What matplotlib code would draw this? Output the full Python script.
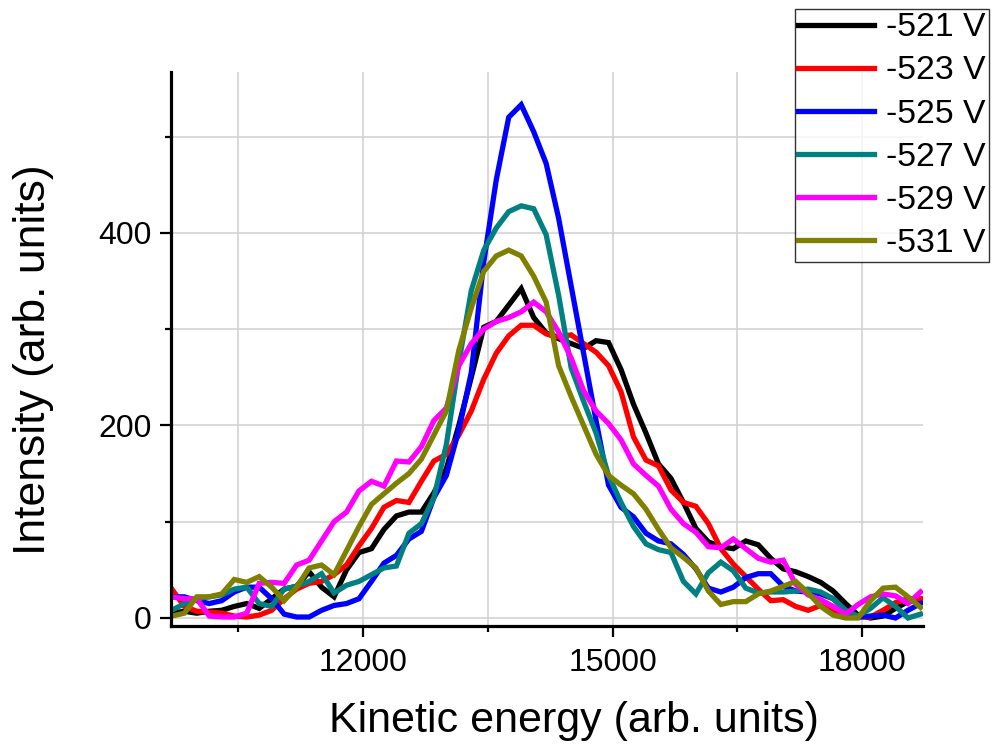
"""
Kinetic energy spectra for several retarding voltages
"""

#---------------------------------------------------------------------------------------------------
# Import Modules
#---------------------------------------------------------------------------------------------------

import matplotlib
matplotlib.use('Agg')
import matplotlib.pyplot as plt
from matplotlib.ticker import MultipleLocator
import numpy as np


#---------------------------------------------------------------------------------------------------
# Input Parameters
#---------------------------------------------------------------------------------------------------

# Kinetic energy bins (arb. units)
energy = np.arange(9700, 18701, 150)

# Intensity (arb. units)
v521 = [5, 7, 5, 7, 8, 12, 15, 10, 20, 30, 33, 48, 32, 22, 50, 68, 72, 92, 106, 110,
        110, 130, 155, 200, 250, 302, 308, 325, 342, 312, 296, 290, 285, 280, 288, 286, 258, 222, 192, 160,
        145, 120, 93, 79, 74, 72, 80, 76, 62, 51, 48, 43, 37, 28, 15, 3, 0, 2, 10, 17, 18]
v523 = [30, 12, 7, 6, 5, 2, 1, 3, 8, 20, 30, 36, 38, 45, 55, 75, 93, 115, 122, 120,
        142, 163, 170, 190, 215, 248, 275, 293, 304, 304, 295, 292, 294, 285, 276, 262, 235, 188, 164, 158,
        133, 120, 116, 98, 72, 56, 43, 30, 18, 19, 12, 8, 13, 6, 2, 1, 1, 8, 16, 20, 20]
v525 = [22, 22, 18, 15, 18, 27, 32, 32, 20, 4, 1, 1, 8, 13, 15, 20, 38, 57, 65, 82,
        90, 125, 148, 195, 255, 370, 455, 520, 533, 505, 472, 415, 345, 275, 205, 138, 115, 105, 88, 80,
        77, 66, 51, 31, 27, 32, 42, 46, 46, 33, 28, 27, 25, 20, 8, 1, 2, 3, 0, 8, 15]
v527 = [8, 15, 20, 22, 24, 30, 32, 15, 12, 30, 33, 38, 46, 26, 34, 38, 45, 52, 54, 88,
        98, 125, 180, 265, 340, 382, 405, 422, 428, 425, 398, 335, 260, 225, 192, 148, 120, 95, 77, 71,
        68, 38, 25, 47, 58, 49, 31, 26, 27, 27, 28, 30, 27, 20, 8, 2, 10, 21, 12, 0, 4]
v529 = [22, 20, 20, 2, 1, 1, 5, 36, 37, 36, 55, 60, 80, 100, 110, 132, 142, 137, 163, 162,
        178, 205, 218, 262, 285, 300, 308, 312, 318, 328, 318, 297, 270, 236, 215, 202, 185, 160, 148, 137,
        113, 98, 89, 74, 73, 82, 72, 62, 58, 60, 35, 24, 19, 12, 4, 14, 22, 25, 23, 15, 27]
v531 = [2, 5, 22, 22, 25, 40, 37, 43, 32, 18, 32, 52, 55, 45, 70, 95, 118, 129, 140, 150,
        165, 190, 215, 278, 322, 360, 376, 382, 376, 355, 328, 262, 230, 200, 170, 148, 138, 129, 113, 92,
        73, 63, 52, 28, 14, 17, 17, 25, 28, 33, 38, 26, 12, 3, 0, 0, 18, 31, 32, 22, 11]

series = [('-521 V', v521, '#000000'),
          ('-523 V', v523, '#ff0000'),
          ('-525 V', v525, '#0000ff'),
          ('-527 V', v527, '#008080'),
          ('-529 V', v529, '#ff00ff'),
          ('-531 V', v531, '#808000')]

output_file = 'out.png'


#---------------------------------------------------------------------------------------------------
# Create Plot
#---------------------------------------------------------------------------------------------------

plt.rcParams['font.family'] = ['Liberation Sans', 'DejaVu Sans']

fig = plt.figure(figsize=(9.92, 7.47), dpi=100)
ax = fig.add_axes([0.1724, 0.162, 0.7576, 0.7416])

for label, vals, color in series:
    ax.plot(energy, vals, linestyle='-', c=color, lw=3.8, label=label,
            solid_joinstyle='miter')

ax.set_xlim(9690, 18725)
ax.set_ylim(-8.3, 567)

ax.xaxis.set_major_locator(MultipleLocator(3000))
ax.xaxis.set_minor_locator(MultipleLocator(1500))
ax.yaxis.set_major_locator(MultipleLocator(200))
ax.yaxis.set_minor_locator(MultipleLocator(100))

ax.grid(which='both', color='#d0d0d0', lw=1.1)
ax.set_axisbelow(True)

for side in ['top', 'right']:
    ax.spines[side].set_visible(False)
for side in ['left', 'bottom']:
    ax.spines[side].set_linewidth(2.3)

ax.tick_params(which='major', direction='out', length=8, width=1.6, labelsize=23, pad=8)
ax.tick_params(which='minor', direction='out', length=4.5, width=1.6)
ax.tick_params(axis='y', which='major', pad=6)

ax.set_xlabel('Kinetic energy (arb. units)', size=31)
ax.set_ylabel('Intensity (arb. units)', size=32)
ax.xaxis.set_label_coords(0.536, -0.136)
ax.yaxis.set_label_coords(-0.156, 0.48)

leg = ax.legend(loc='upper right', bbox_to_anchor=(0.997, 0.988), bbox_transform=fig.transFigure,
                fontsize=24.3, frameon=True, fancybox=False, edgecolor='black', borderaxespad=0,
                handlelength=2.25, handletextpad=0.36, labelspacing=0.36, borderpad=0.1)
leg.get_frame().set_linewidth(1.0)

plt.savefig(output_file, dpi=100)


"""
End plot.py
"""
